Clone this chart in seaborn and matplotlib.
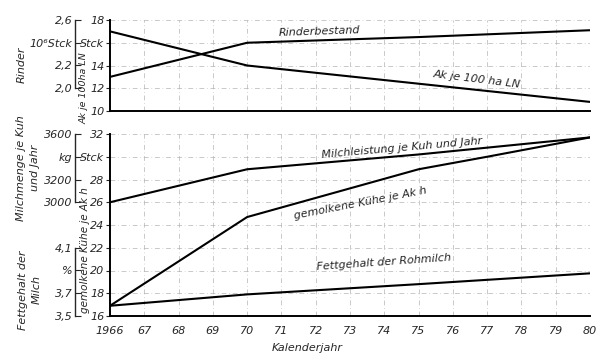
import numpy as np
import pandas as pd
import seaborn as sns
import matplotlib.pyplot as plt
from matplotlib.ticker import FixedLocator, FixedFormatter

# values
years_rinder = [1966, 1970, 1975, 1980]
rinderbestand = [2.10, 2.40, 2.45, 2.51]        # 10^6 Stck
ak_je_100ha = [17.0, 14.0, 12.4, 10.8]          # Ak je 100 ha LN

years_milch = [1966, 1970, 1975, 1980]
milchleistung = [3000, 3290, 3420, 3570]        # kg je Kuh und Jahr

years_kuehe = [1966, 1970, 1975, 1977, 1980]
kuehe_je_akh = [16.9, 24.7, 28.9, 30.0, 31.7]   # gemolkene Kuehe je Ak h

years_fett = [1966, 1970, 1975, 1980]
fettgehalt = [3.59, 3.69, 3.78, 3.875]          # %

year_ticks = list(range(1966, 1981))
year_labels = ['1966'] + [str(y)[2:] for y in year_ticks[1:]]

sns.set_style('white')
plt.rcParams['font.family'] = ['DejaVu Sans']
plt.rcParams['font.style'] = 'italic'
FS = 8
GRID = dict(color='#b4b4b4', lw=0.5, ls=(0, (7, 4, 1, 4)))
LINE = dict(color='black', lw=1.5)

fig = plt.figure(figsize=(6.01, 3.59), dpi=100)
W, H = 601, 359
ax1 = fig.add_axes([110 / W, 1 - 111 / H, 480 / W, 91 / H])
ax2 = fig.add_axes([110 / W, 1 - 316 / H, 480 / W, 182 / H])


def style_inner(ax, lo, hi, ticks, labels):
    ax.set_xlim(1966, 1980)
    ax.set_ylim(lo, hi)
    ax.set_xticks(year_ticks)
    ax.yaxis.set_major_locator(FixedLocator(ticks))
    ax.yaxis.set_major_formatter(FixedFormatter(labels))
    ax.grid(True, **GRID)
    for s in ['top', 'right']:
        ax.spines[s].set_visible(False)
    for s in ['left', 'bottom']:
        ax.spines[s].set_color('black')
        ax.spines[s].set_linewidth(1.4)
    ax.tick_params(axis='y', direction='out', length=3, width=0.8, pad=1,
                   labelsize=FS)
    ax.tick_params(axis='x', length=0, labelsize=FS)
    ax.set_xlabel('')
    ax.set_ylabel('')


def outer_axis(ax, lo, hi, ticks, labels, bounds):
    tw = ax.twinx()
    tw.set_ylim(lo, hi)
    for s in ['top', 'right', 'bottom']:
        tw.spines[s].set_visible(False)
    tw.spines['left'].set_visible(True)
    tw.spines['left'].set_position(('outward', 25))
    tw.spines['left'].set_bounds(*bounds)
    tw.spines['left'].set_linewidth(1.0)
    tw.yaxis.set_ticks_position('left')
    tw.yaxis.set_label_position('left')
    tw.yaxis.set_major_locator(FixedLocator(ticks))
    tw.yaxis.set_major_formatter(FixedFormatter(labels))
    tw.tick_params(axis='y', direction='in', length=4, width=0.8, pad=2,
                   labelsize=FS)
    tw.grid(False)
    return tw


# top panel
style_inner(ax1, 10, 18, [10, 12, 14, 16, 18], ['10', '12', '14', 'Stck', '18'])
ax1.tick_params(axis='x', labelbottom=False)
tw1 = outer_axis(ax1, 1.8, 2.6, [2.0, 2.2, 2.4, 2.6],
                 ['2,0', '2,2', '10⁶Stck', '2,6'], (2.0, 2.6))
sns.lineplot(x=years_rinder, y=ak_je_100ha, ax=ax1, **LINE)
sns.lineplot(x=years_rinder, y=rinderbestand, ax=tw1, **LINE)
ax1.set_xlim(1966, 1980)

# middle + bottom panel
style_inner(ax2, 16, 32, list(range(16, 33, 2)),
            ['16', '18', '20', '22', '24', '26', '28', 'Stck', '32'])
ax2.set_xticklabels(year_labels)
ax2.tick_params(axis='x', pad=7)
tw_milch = outer_axis(ax2, 2000, 3600, [3000, 3200, 3400, 3600],
                      ['3000', '3200', 'kg', '3600'], (3000, 3600))
tw_fett = outer_axis(ax2, 3.5, 5.1, [3.5, 3.7, 3.9, 4.1],
                     ['3,5', '3,7', '%', '4,1'], (3.5, 4.1))
sns.lineplot(x=years_kuehe, y=kuehe_je_akh, ax=ax2, **LINE)
sns.lineplot(x=years_milch, y=milchleistung, ax=tw_milch, **LINE)
sns.lineplot(x=years_fett, y=fettgehalt, ax=tw_fett, **LINE)
ax2.set_xlim(1966, 1980)
ax2.set_xlabel('Kalenderjahr', fontsize=FS, labelpad=1)
ax2.xaxis.set_label_coords(0.41, -0.15)

# labels along the lines
ax1.text(1972.1, 17.0, 'Rinderbestand', fontsize=FS, ha='center', va='center',
         rotation=2)
ax1.text(1976.7, 12.8, 'Ak je 100 ha LN', fontsize=FS, ha='center', va='center',
         rotation=-7)
ax2.text(1974.5, 30.8, 'Milchleistung je Kuh und Jahr', fontsize=FS,
         ha='center', va='center', rotation=5)
ax2.text(1973.3, 25.9, 'gemolkene Kühe je Ak h', fontsize=FS, ha='center',
         va='center', rotation=11)
ax2.text(1974.0, 20.7, 'Fettgehalt der Rohmilch', fontsize=FS, ha='center',
         va='center', rotation=4)

# rotated axis titles
fig.text(84 / W, 1 - 88 / H, 'Ak je 100ha LN', fontsize=6.8, rotation=90,
         ha='center', va='center')
fig.text(85 / W, 1 - 250 / H, 'gemolkene Kühe je Ak h', fontsize=7.5,
         rotation=90, ha='center', va='center')
fig.text(22 / W, 1 - 65 / H, 'Rinder', fontsize=FS, rotation=90,
         ha='center', va='center')
fig.text(28 / W, 1 - 168 / H, 'Milchmenge je Kuh\nund Jahr', fontsize=FS,
         rotation=90, ha='center', va='center', linespacing=1.4)
fig.text(30 / W, 1 - 290 / H, 'Fettgehalt der\nMilch', fontsize=FS,
         rotation=90, ha='center', va='center', linespacing=1.4)

fig.savefig('out.png', dpi=100)
